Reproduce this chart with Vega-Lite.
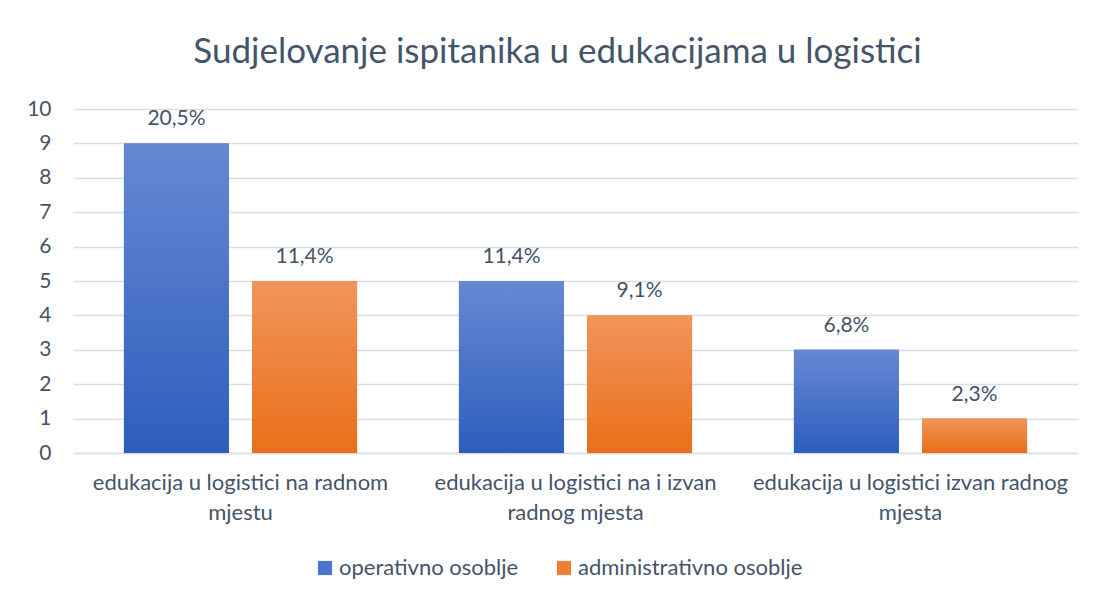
{
  "$schema": "https://vega.github.io/schema/vega-lite/v6.json",
  "width": 1005,
  "height": 344,
  "autosize": {"type": "none"},
  "padding": {"left": 73, "top": 109, "right": 18, "bottom": 145},
  "background": "white",
  "title": {
    "text": "Sudjelovanje ispitanika u edukacijama u logistici",
    "font": "Lato",
    "fontSize": 35,
    "fontWeight": "normal",
    "color": "#44546a",
    "anchor": "middle",
    "dx": -18,
    "offset": 28
  },
  "data": {
    "values": [
      {"kategorija": "edukacija u logistici na radnom mjestu", "serija": "operativno osoblje", "broj": 9, "postotak": "20,5%"},
      {"kategorija": "edukacija u logistici na radnom mjestu", "serija": "administrativno osoblje", "broj": 5, "postotak": "11,4%"},
      {"kategorija": "edukacija u logistici na i izvan radnog mjesta", "serija": "operativno osoblje", "broj": 5, "postotak": "11,4%"},
      {"kategorija": "edukacija u logistici na i izvan radnog mjesta", "serija": "administrativno osoblje", "broj": 4, "postotak": "9,1%"},
      {"kategorija": "edukacija u logistici izvan radnog mjesta", "serija": "operativno osoblje", "broj": 3, "postotak": "6,8%"},
      {"kategorija": "edukacija u logistici izvan radnog mjesta", "serija": "administrativno osoblje", "broj": 1, "postotak": "2,3%"}
    ]
  },
  "encoding": {
    "x": {
      "field": "kategorija",
      "type": "nominal",
      "sort": null,
      "scale": {"paddingInner": 0.304, "paddingOuter": 0.152},
      "axis": {
        "title": null,
        "labelAngle": 0,
        "labelFont": "Lato",
        "labelFontSize": 22,
        "labelColor": "#44546a",
        "labelPadding": 19,
        "labelLineHeight": 30,
        "labelLimit": 400,
        "ticks": false,
        "domainColor": "#d9dde4",
        "domainWidth": 1.5,
        "labelExpr": "datum.value == 'edukacija u logistici na radnom mjestu' ? ['edukacija u logistici na radnom', 'mjestu'] : datum.value == 'edukacija u logistici na i izvan radnog mjesta' ? ['edukacija u logistici na i izvan', 'radnog mjesta'] : ['edukacija u logistici izvan radnog', 'mjesta']"
      }
    },
    "xOffset": {
      "field": "serija",
      "type": "nominal",
      "scale": {"domain": ["operativno osoblje", "administrativno osoblje"], "paddingInner": 0.18, "paddingOuter": 0}
    },
    "y": {
      "field": "broj",
      "type": "quantitative",
      "scale": {"domain": [0, 10], "nice": false},
      "axis": {
        "title": null,
        "values": [0,1,2,3,4,5,6,7,8,9,10],
        "labelOverlap": false,
        "labelFont": "Lato",
        "labelFontSize": 21,
        "labelColor": "#44546a",
        "labelPadding": 22,
        "ticks": false,
        "domain": false,
        "gridColor": "#d9dde4",
        "gridWidth": 1.5
      }
    }
  },
  "layer": [
    {
      "mark": {"type": "bar"},
      "encoding": {
        "color": {
          "field": "serija",
          "type": "nominal",
          "scale": {"domain": ["operativno osoblje", "administrativno osoblje"], "range": ["#4a77cb", "#ee7f30"]},
          "legend": {
            "title": null,
            "orient": "none",
            "legendX": 241,
            "legendY": 448,
            "direction": "horizontal",
            "symbolType": "square",
            "symbolSize": 200,
            "symbolStrokeWidth": 0,
            "labelFont": "Lato",
            "labelFontSize": 22,
            "labelOffset": 3,
            "labelColor": "#44546a",
            "labelLimit": 400,
            "columnPadding": 34
          }
        }
      }
    },
    {
      "transform": [{"filter": "datum.serija == 'operativno osoblje'"}],
      "mark": {
        "type": "bar",
        "color": {
          "gradient": "linear",
          "x1": 0, "y1": 0, "x2": 0, "y2": 1,
          "stops": [
            {"offset": 0, "color": "#6788d2"},
            {"offset": 1, "color": "#2d5ebd"}
          ]
        }
      }
    },
    {
      "transform": [{"filter": "datum.serija == 'administrativno osoblje'"}],
      "mark": {
        "type": "bar",
        "color": {
          "gradient": "linear",
          "x1": 0, "y1": 0, "x2": 0, "y2": 1,
          "stops": [
            {"offset": 0, "color": "#f1955b"},
            {"offset": 1, "color": "#e86f18"}
          ]
        }
      }
    },
    {
      "mark": {
        "type": "text",
        "baseline": "alphabetic",
        "dy": -18,
        "font": "Lato",
        "fontSize": 21,
        "color": "#44546a"
      },
      "encoding": {
        "text": {"field": "postotak", "type": "nominal"}
      }
    }
  ],
  "config": {
    "view": {"stroke": null}
  }
}
